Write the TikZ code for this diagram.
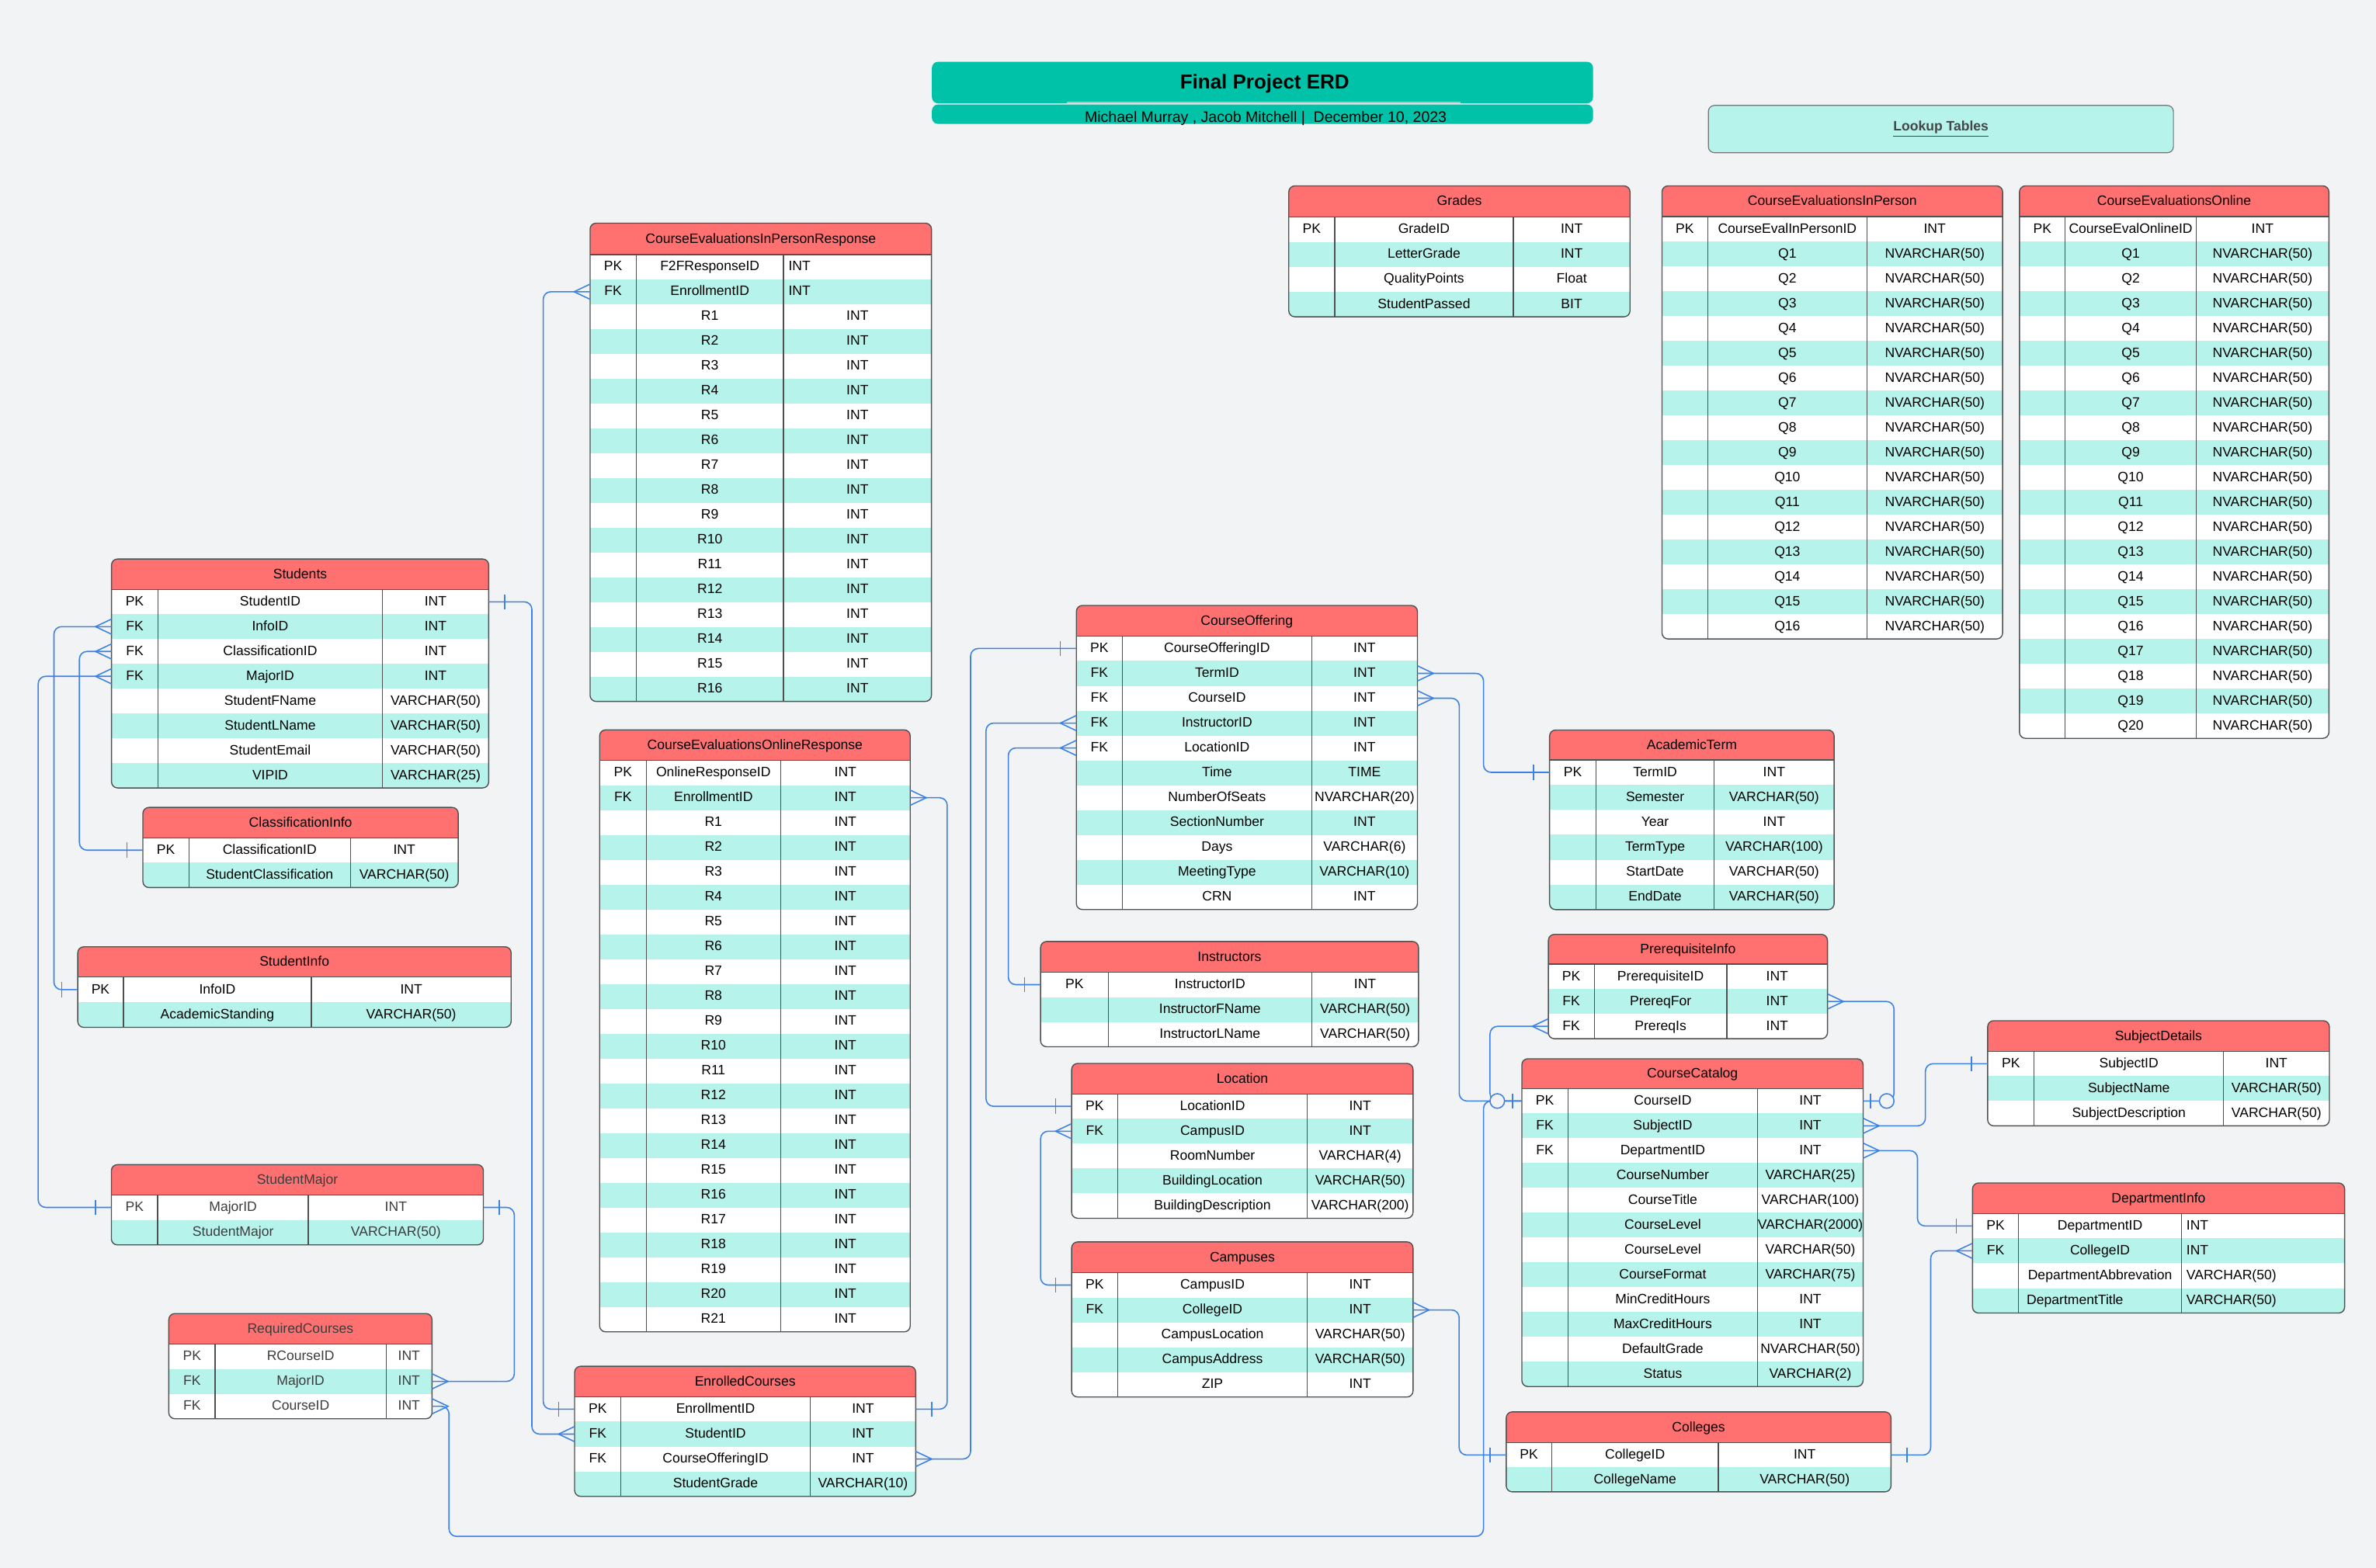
\documentclass[tikz,border=0pt]{standalone}
\usepackage{fontspec}
\setmainfont{Liberation Sans}
\definecolor{bg}{RGB}{242,243,245}
\definecolor{hdr}{RGB}{255,112,112}
\definecolor{rowt}{RGB}{182,243,235}
\definecolor{titlec}{RGB}{0,194,168}
\definecolor{connc}{RGB}{60,130,230}
\definecolor{tlc}{RGB}{80,80,80}
\definecolor{txtgrey}{RGB}{60,60,60}
\definecolor{lookc}{RGB}{70,70,70}
\definecolor{ruleg}{RGB}{190,190,190}
\tikzset{
 rowbox/.style={rectangle, draw=none, inner sep=0pt, outer sep=0pt, anchor=north west},
 hdrbox/.style={rectangle, fill=hdr, draw=none, inner sep=0pt, outer sep=0pt, anchor=north west},
 txt/.style={inner sep=0pt, outer sep=0pt, anchor=base, text=black, font=\fontsize{9}{11}\selectfont},
 tline/.style={draw=tlc, line width=0.7pt},
 conn/.style={draw=connc, line width=0.8pt, rounded corners=5pt},
 cline/.style={draw=connc, line width=0.8pt},
}
\newcommand\typeL[1]{\makebox[\tbwc pt][l]{#1}}
\newcommand\nameL[1]{\makebox[\tbwb pt][l]{#1}}
\newcommand\erd[9]{\def\tbn{#1}\def\tbx{#2}\def\tbt{#3}\def\tbr{#4}\def\tbh{#5}\def\tbrh{#6}\def\tbca{#7}\def\tbcb{#8}\def\tbtitle{#9}\erdbody}
\newcommand\erdbody[1]{%
 \gdef\tblast{0}%
 \foreach \ka/\kb/\kc [count=\ri] in {#1} {\xdef\tblast{\ri}}%
 \pgfmathsetmacro\tbb{\tbh+\tblast*\tbrh}%
 \pgfmathsetmacro\tbw{\tbr-\tbx}%
 \pgfmathsetmacro\tbhh{\tbh-\tbt}%
 \pgfmathsetmacro\tbna{(\tbx+\tbca)/2}%
 \pgfmathsetmacro\tbnb{(\tbca+\tbcb)/2}%
 \pgfmathsetmacro\tbnc{(\tbcb+\tbr)/2}%
 \pgfmathsetmacro\tbwb{\tbcb-\tbca-10.8}%
 \pgfmathsetmacro\tbwc{\tbr-\tbcb-6.6}%
 \begin{scope}
  \clip[rounded corners=4pt] (\tbx,\tbt) rectangle (\tbr,\tbb);
  \node[hdrbox, minimum width=\tbw pt, minimum height=\tbhh pt] (\tbn) at (\tbx,\tbt) {};
  \foreach \ka/\kb/\kc [count=\ri] in {#1} {
   \pgfmathsetmacro\ya{\tbh+(\ri-1)*\tbrh}
   \pgfmathsetmacro\yb{\ya+\tbrh/2+2.6}
   \ifodd\ri\relax\def\rowc{white}\else\def\rowc{rowt}\fi
   \node[rowbox, fill=\rowc, minimum width=\tbw pt, minimum height=\tbrh pt] (\tbn-r\ri) at (\tbx,\ya) {};
   \node[txt] (\tbn-k\ri) at (\tbna,\yb) {\ka};
   \node[txt] (\tbn-n\ri) at (\tbnb,\yb) {\kb};
   \node[txt] (\tbn-t\ri) at (\tbnc,\yb) {\kc};
  }
 \end{scope}
 \node[txt] (\tbn-title) at ({(\tbx+\tbr)/2},{(\tbt+\tbh)/2+2.8}) {\tbtitle};
 \draw[tline] (\tbca,\tbh) -- (\tbca,\tbb) (\tbcb,\tbh) -- (\tbcb,\tbb) (\tbx,\tbh) -- (\tbr,\tbh);
 \draw[tline, rounded corners=4pt] (\tbx,\tbt) rectangle (\tbr,\tbb);
}
\newcommand\crowW[1]{\draw[cline] ([yshift=5pt]#1.west) -- ([xshift=-10.6pt]#1.west) -- ([yshift=-5pt]#1.west);}
\newcommand\crowE[1]{\draw[cline] ([yshift=5pt]#1.east) -- ([xshift=10.6pt]#1.east) -- ([yshift=-5pt]#1.east);}
\newcommand\barW[1]{\draw[cline] ([xshift=-10.6pt,yshift=5pt]#1.west) -- ([xshift=-10.6pt,yshift=-5pt]#1.west);}
\newcommand\barE[1]{\draw[cline] ([xshift=10.6pt,yshift=5pt]#1.east) -- ([xshift=10.6pt,yshift=-5pt]#1.east);}
\begin{document}
\begin{tikzpicture}[x=1pt,y=-1pt]
\useasboundingbox (0,0) rectangle (1568,1035);
\fill[bg] (0,0) rectangle (1568,1035);
% title
\fill[titlec, rounded corners=4pt] (615,40.8) rectangle (1051.3,68.2);
\fill[titlec, rounded corners=4pt] (615,69) rectangle (1051.3,81.8);
\draw[ruleg, line width=1.2pt] (704,67.8) -- (964,67.8);
\node[inner sep=0pt, anchor=base, font=\fontsize{13.3}{15}\selectfont\bfseries] (title) at (834.6,58.6) {Final Project ERD};
\node[inner sep=0pt, anchor=base, font=\fontsize{10}{12}\selectfont] (subtitle) at (835.3,80.6) {Michael Murray , Jacob Mitchell |~ December 10, 2023};
\node[draw=tlc!80, line width=0.6pt, fill=rowt, rounded corners=4pt, minimum width=306.9pt, minimum height=31.2pt, inner sep=0pt, text=lookc, font=\fontsize{9}{11}\selectfont\bfseries] (lookup) at (1280.85,85.2) {\underline{Lookup Tables}};

% tables
\erd{Students}{73.6}{369}{322.5}{389.1}{16.38}{104.2}{252.4}{Students}
{PK/StudentID/INT, FK/InfoID/INT, FK/ClassificationID/INT, FK/MajorID/INT, /StudentFName/VARCHAR(50), /StudentLName/VARCHAR(50), /StudentEmail/VARCHAR(50), /VIPID/VARCHAR(25)}
\erd{ClassificationInfo}{94.3}{533}{302.4}{553}{16.45}{124.7}{231.2}{ClassificationInfo}
{PK/ClassificationID/INT, /StudentClassification/VARCHAR(50)}
\erd{StudentInfo}{51.3}{625}{337.3}{645}{16.6}{81.4}{205.5}{StudentInfo}
{PK/InfoID/INT, /AcademicStanding/VARCHAR(50)}
\begin{scope}[txt/.append style={text=txtgrey}]
\erd{StudentMajor}{73.5}{768.8}{319}{788.8}{16.5}{104.1}{203.5}{StudentMajor}
{PK/MajorID/INT, /StudentMajor/VARCHAR(50)}
\erd{RequiredCourses}{111.4}{867.1}{285.1}{887.2}{16.45}{142.0}{254.8}{RequiredCourses}
{PK/RCourseID/INT, FK/MajorID/INT, FK/CourseID/INT}
\end{scope}
\erd{CEIPR}{389.4}{147.3}{614.7}{168}{16.39}{419.8}{517.1}{CourseEvaluationsInPersonResponse}
{PK/F2FResponseID/\typeL{INT}, FK/EnrollmentID/\typeL{INT}, /R1/INT, /R2/INT, /R3/INT, /R4/INT, /R5/INT, /R6/INT, /R7/INT, /R8/INT, /R9/INT, /R10/INT, /R11/INT, /R12/INT, /R13/INT, /R14/INT, /R15/INT, /R16/INT}
\erd{CEOR}{395.7}{481.8}{600.7}{502}{16.4}{426.5}{515.1}{CourseEvaluationsOnlineResponse}
{PK/OnlineResponseID/INT, FK/EnrollmentID/INT, /R1/INT, /R2/INT, /R3/INT, /R4/INT, /R5/INT, /R6/INT, /R7/INT, /R8/INT, /R9/INT, /R10/INT, /R11/INT, /R12/INT, /R13/INT, /R14/INT, /R15/INT, /R16/INT, /R17/INT, /R18/INT, /R19/INT, /R20/INT, /R21/INT}
\erd{EnrolledCourses}{379.2}{901.9}{604.3}{922}{16.45}{409.7}{534.7}{EnrolledCourses}
{PK/EnrollmentID/INT, FK/StudentID/INT, FK/CourseOfferingID/INT, /StudentGrade/VARCHAR(10)}
\erd{CourseOffering}{710.3}{399.7}{935.4}{419.9}{16.41}{740.7}{865.6}{CourseOffering}
{PK/CourseOfferingID/INT, FK/TermID/INT, FK/CourseID/INT, FK/InstructorID/INT, FK/LocationID/INT, /Time/TIME, /NumberOfSeats/NVARCHAR(20), /SectionNumber/INT, /Days/VARCHAR(6), /MeetingType/VARCHAR(10), /CRN/INT}
\erd{Instructors}{686.7}{621.5}{936.1}{641.8}{16.4}{731.4}{865.6}{Instructors}
{PK/InstructorID/INT, /InstructorFName/VARCHAR(50), /InstructorLName/VARCHAR(50)}
\erd{Location}{707.2}{702}{932.5}{722.1}{16.42}{737.6}{862.7}{Location}
{PK/LocationID/INT, FK/CampusID/INT, /RoomNumber/VARCHAR(4), /BuildingLocation/VARCHAR(50), /BuildingDescription/VARCHAR(200)}
\erd{Campuses}{707.2}{819.8}{932.5}{840.1}{16.42}{737.6}{862.7}{Campuses}
{PK/CampusID/INT, FK/CollegeID/INT, /CampusLocation/VARCHAR(50), /CampusAddress/VARCHAR(50), /ZIP/INT}
\erd{AcademicTerm}{1022.6}{481.9}{1210.4}{501.6}{16.48}{1053.3}{1131.2}{AcademicTerm}
{PK/TermID/INT, /Semester/VARCHAR(50), /Year/INT, /TermType/VARCHAR(100), /StartDate/VARCHAR(50), /EndDate/VARCHAR(50)}
\erd{PrerequisiteInfo}{1021.8}{616.8}{1206}{636.5}{16.4}{1052.1}{1139.6}{PrerequisiteInfo}
{PK/PrerequisiteID/INT, FK/PrereqFor/INT, FK/PrereqIs/INT}
\erd{CourseCatalog}{1004.3}{698.9}{1229.5}{718.6}{16.39}{1034.7}{1159.9}{CourseCatalog}
{PK/CourseID/INT, FK/SubjectID/INT, FK/DepartmentID/INT, /CourseNumber/VARCHAR(25), /CourseTitle/VARCHAR(100), /CourseLevel/VARCHAR(2000), /CourseLevel/VARCHAR(50), /CourseFormat/VARCHAR(75), /MinCreditHours/INT, /MaxCreditHours/INT, /DefaultGrade/NVARCHAR(50), /Status/VARCHAR(2)}
\erd{SubjectDetails}{1311.7}{673.8}{1537.2}{694}{16.4}{1342.4}{1467.4}{SubjectDetails}
{PK/SubjectID/INT, /SubjectName/VARCHAR(50), /SubjectDescription/VARCHAR(50)}
\erd{DepartmentInfo}{1301.7}{780.9}{1547.3}{801.1}{16.42}{1332.1}{1439.6}{DepartmentInfo}
{PK/DepartmentID/\typeL{INT}, FK/CollegeID/\typeL{INT}, /DepartmentAbbrevation/\typeL{VARCHAR(50)}, /\nameL{DepartmentTitle}/\typeL{VARCHAR(50)}}
\erd{Colleges}{994}{932}{1247.9}{952.4}{16.2}{1024}{1134}{Colleges}
{PK/CollegeID/INT, /CollegeName/VARCHAR(50)}
\erd{Grades}{850.5}{122.7}{1075.7}{143.2}{16.48}{880.8}{998.7}{Grades}
{PK/GradeID/INT, /LetterGrade/INT, /QualityPoints/Float, /StudentPassed/BIT}
\erd{CEIP}{1096.8}{122.7}{1321.6}{143}{16.4}{1127}{1232}{CourseEvaluationsInPerson}
{PK/CourseEvalInPersonID/INT, /Q1/NVARCHAR(50), /Q2/NVARCHAR(50), /Q3/NVARCHAR(50), /Q4/NVARCHAR(50), /Q5/NVARCHAR(50), /Q6/NVARCHAR(50), /Q7/NVARCHAR(50), /Q8/NVARCHAR(50), /Q9/NVARCHAR(50), /Q10/NVARCHAR(50), /Q11/NVARCHAR(50), /Q12/NVARCHAR(50), /Q13/NVARCHAR(50), /Q14/NVARCHAR(50), /Q15/NVARCHAR(50), /Q16/NVARCHAR(50)}
\erd{CEO}{1332.7}{122.7}{1536.9}{143}{16.4}{1362.9}{1449.3}{CourseEvaluationsOnline}
{PK/CourseEvalOnlineID/INT, /Q1/NVARCHAR(50), /Q2/NVARCHAR(50), /Q3/NVARCHAR(50), /Q4/NVARCHAR(50), /Q5/NVARCHAR(50), /Q6/NVARCHAR(50), /Q7/NVARCHAR(50), /Q8/NVARCHAR(50), /Q9/NVARCHAR(50), /Q10/NVARCHAR(50), /Q11/NVARCHAR(50), /Q12/NVARCHAR(50), /Q13/NVARCHAR(50), /Q14/NVARCHAR(50), /Q15/NVARCHAR(50), /Q16/NVARCHAR(50), /Q17/NVARCHAR(50), /Q18/NVARCHAR(50), /Q19/NVARCHAR(50), /Q20/NVARCHAR(50)}

% lanes
\coordinate (lnA) at (351.0,0);
\coordinate (lnB) at (358.5,0);
\coordinate (lnC) at (35.6,0);
\coordinate (lnD) at (52.4,0);
\coordinate (lnE) at (25.2,0);
\coordinate (lnF) at (339.4,0);
\coordinate (lnG) at (296.3,0);
\coordinate (lnGb) at (0,1014.2);
\coordinate (lnH) at (979.0,0);
\coordinate (lnI) at (963.0,0);
\coordinate (lnJ) at (983.3,0);
\coordinate (lnK) at (1249.9,0);
\coordinate (lnL) at (1270.6,0);
\coordinate (lnM) at (1265.4,0);
\coordinate (lnN) at (1274.1,0);
\coordinate (lnO) at (962.9,0);
\coordinate (lnP) at (979.0,0);
\coordinate (lnQ) at (640.5,0);
\coordinate (lnR) at (650.7,0);
\coordinate (lnS) at (665.4,0);
\coordinate (lnT) at (686.7,0);
\coordinate (lnU) at (625.1,0);

% connectors
\draw[conn] (Students-r1.east) -- (Students-r1.east -| lnA) -- (EnrolledCourses-r2.west -| lnA) -- (EnrolledCourses-r2.west);
\barE{Students-r1} \crowW{EnrolledCourses-r2}
\draw[conn] (Students-r2.west) -- (Students-r2.west -| lnC) -- (StudentInfo-r1.west -| lnC) -- (StudentInfo-r1.west);
\crowW{Students-r2} \barW{StudentInfo-r1}
\draw[conn] (Students-r3.west) -- (Students-r3.west -| lnD) -- (ClassificationInfo-r1.west -| lnD) -- (ClassificationInfo-r1.west);
\crowW{Students-r3} \barW{ClassificationInfo-r1}
\draw[conn] (Students-r4.west) -- (Students-r4.west -| lnE) -- (StudentMajor-r1.west -| lnE) -- (StudentMajor-r1.west);
\crowW{Students-r4} \barW{StudentMajor-r1}
\draw[conn] (StudentMajor-r1.east) -- (StudentMajor-r1.east -| lnF) -- (RequiredCourses-r2.east -| lnF) -- (RequiredCourses-r2.east);
\barE{StudentMajor-r1} \crowE{RequiredCourses-r2}
\draw[conn] (RequiredCourses-r3.east) -- (RequiredCourses-r3.east -| lnG) -- (lnG |- lnGb) -- (lnH |- lnGb) -- (CourseCatalog-r1.west -| lnH) -- (CourseCatalog-r1.west);
\crowE{RequiredCourses-r3}
\draw[conn] (CEIPR-r2.west) -- (CEIPR-r2.west -| lnB) -- (EnrolledCourses-r1.west -| lnB) -- (EnrolledCourses-r1.west);
\crowW{CEIPR-r2} \barW{EnrolledCourses-r1}
\draw[conn] (CEOR-r2.east) -- (CEOR-r2.east -| lnU) -- (EnrolledCourses-r1.east -| lnU) -- (EnrolledCourses-r1.east);
\crowE{CEOR-r2} \barE{EnrolledCourses-r1}
\draw[conn] (CourseOffering-r1.west) -- (CourseOffering-r1.west -| lnQ) -- (EnrolledCourses-r3.east -| lnQ) -- (EnrolledCourses-r3.east);
\barW{CourseOffering-r1} \crowE{EnrolledCourses-r3}
\draw[conn] (CourseOffering-r2.east) -- (CourseOffering-r2.east -| lnP) -- (AcademicTerm-r1.west -| lnP) -- (AcademicTerm-r1.west);
\crowE{CourseOffering-r2} \barW{AcademicTerm-r1}
\draw[conn] (CourseOffering-r3.east) -- (CourseOffering-r3.east -| lnI) -- (CourseCatalog-r1.west -| lnI) -- (CourseCatalog-r1.west);
\crowE{CourseOffering-r3}
\draw[conn] (CourseOffering-r4.west) -- (CourseOffering-r4.west -| lnR) -- (Location-r1.west -| lnR) -- (Location-r1.west);
\crowW{CourseOffering-r4} \barW{Location-r1}
\draw[conn] (CourseOffering-r5.west) -- (CourseOffering-r5.west -| lnS) -- (Instructors-r1.west -| lnS) -- (Instructors-r1.west);
\crowW{CourseOffering-r5} \barW{Instructors-r1}
\draw[conn] (Location-r2.west) -- (Location-r2.west -| lnT) -- (Campuses-r1.west -| lnT) -- (Campuses-r1.west);
\crowW{Location-r2} \barW{Campuses-r1}
\draw[conn] (Campuses-r2.east) -- (Campuses-r2.east -| lnO) -- (Colleges-r1.west -| lnO) -- (Colleges-r1.west);
\crowE{Campuses-r2} \barW{Colleges-r1}
\draw[conn] (Colleges-r1.east) -- (Colleges-r1.east -| lnN) -- (DepartmentInfo-r2.west -| lnN) -- (DepartmentInfo-r2.west);
\barE{Colleges-r1} \crowW{DepartmentInfo-r2}
\draw[conn] (CourseCatalog-r2.east) -- (CourseCatalog-r2.east -| lnL) -- (SubjectDetails-r1.west -| lnL) -- (SubjectDetails-r1.west);
\crowE{CourseCatalog-r2} \barW{SubjectDetails-r1}
\draw[conn] (CourseCatalog-r3.east) -- (CourseCatalog-r3.east -| lnM) -- (DepartmentInfo-r1.west -| lnM) -- (DepartmentInfo-r1.west);
\crowE{CourseCatalog-r3} \barW{DepartmentInfo-r1}
\draw[conn] (PrerequisiteInfo-r2.east) -- (PrerequisiteInfo-r2.east -| lnK) -- (CourseCatalog-r1.east -| lnK) -- (CourseCatalog-r1.east);
\crowE{PrerequisiteInfo-r2}
\draw[conn] (PrerequisiteInfo-r3.west) -- (PrerequisiteInfo-r3.west -| lnJ) -- (CourseCatalog-r1.west -| lnJ) -- (CourseCatalog-r1.west);
\crowW{PrerequisiteInfo-r3}
% zero-or-one ends at CourseCatalog.CourseID
\draw[cline, fill=bg] ([xshift=-16.2pt]CourseCatalog-r1.west) circle (4.8pt);
\draw[cline] ([xshift=-6.2pt,yshift=5pt]CourseCatalog-r1.west) -- ([xshift=-6.2pt,yshift=-5pt]CourseCatalog-r1.west);
\draw[cline, fill=bg] ([xshift=15.6pt]CourseCatalog-r1.east) circle (4.8pt);
\draw[cline] ([xshift=5pt,yshift=5pt]CourseCatalog-r1.east) -- ([xshift=5pt,yshift=-5pt]CourseCatalog-r1.east);
\end{tikzpicture}
\end{document}
